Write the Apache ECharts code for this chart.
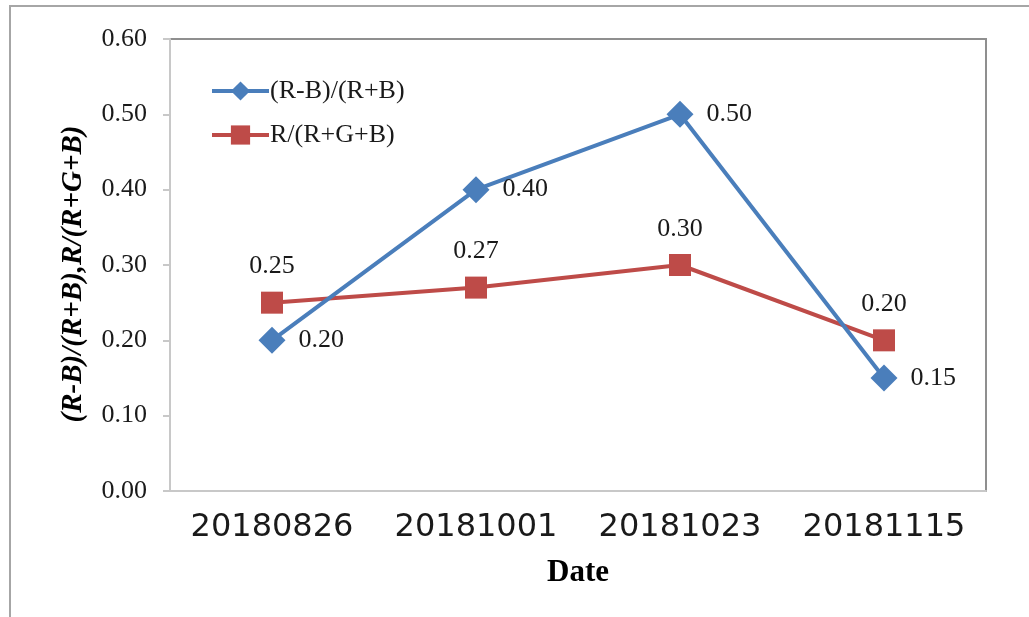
<!DOCTYPE html>
<html>
<head>
<meta charset="utf-8">
<script src="https://cdn.jsdelivr.net/npm/echarts@6/dist/echarts.min.js"></script>
<style>
  html, body { margin: 0; padding: 0; background: #fff; }
  #chart { width: 1029px; height: 617px; }
</style>
</head>
<body>
<div id="chart"></div>
<script>
// Sampling dates
const dates = ['20180826', '20181001', '20181023', '20181115'];
// Colour index series
const seriesNames = ['(R-B)/(R+B)', 'R/(R+G+B)'];
const ratioRB = [0.20, 0.40, 0.50, 0.15];
const ratioRGB = [0.25, 0.27, 0.30, 0.20];
// Value axis range
const yMin = 0, yMax = 0.6, yStep = 0.1;

const serif = '"Liberation Serif", "Times New Roman", serif';
const textColor = '#1a1a1a';

const chart = echarts.init(document.getElementById('chart'));
chart.setOption({
  animation: false,
  backgroundColor: '#fff',
  graphic: [{
    type: 'rect',
    shape: { x: 10, y: 6, width: 1060, height: 700 },
    style: { fill: 'none', stroke: '#a6a6a6', lineWidth: 2 },
    silent: true
  }],
  grid: {
    left: 170, top: 39, right: 43, bottom: 126,
    show: true, borderColor: '#8f8f8f', borderWidth: 2
  },
  legend: {
    orient: 'vertical',
    left: 205, top: 73,
    itemWidth: 57, itemHeight: 24, itemGap: 18,
    lineStyle: { width: 4 },
    textStyle: { fontFamily: serif, fontSize: 26, color: textColor, padding: [0, 0, 0, -4] },
    data: seriesNames
  },
  xAxis: {
    type: 'category',
    data: dates,
    boundaryGap: true,
    axisLine: { lineStyle: { color: '#c8c8c8', width: 2 } },
    axisTick: { show: false },
    axisLabel: {
      interval: 0,
      fontFamily: '"DejaVu Sans", sans-serif', fontSize: 32, color: textColor, margin: 21
    },
    name: 'Date',
    nameLocation: 'middle',
    nameGap: 66,
    nameTextStyle: { fontFamily: serif, fontSize: 31, fontWeight: 'bold', color: '#000' }
  },
  yAxis: {
    type: 'value',
    min: yMin, max: yMax, interval: yStep,
    axisLine: { show: true, lineStyle: { color: '#c8c8c8', width: 2 } },
    axisTick: { show: true, length: 7, lineStyle: { color: '#c8c8c8', width: 2 } },
    splitLine: { show: false },
    axisLabel: {
      fontFamily: serif, fontSize: 26, color: textColor, margin: 23,
      formatter: v => v.toFixed(2)
    },
    name: '(R-B)/(R+B),R/(R+G+B)',
    nameLocation: 'middle',
    nameRotate: 90,
    nameGap: 82,
    nameTextStyle: {
      fontFamily: serif, fontSize: 29, fontWeight: 'bold', fontStyle: 'italic', color: '#000',
      padding: [0, 18, 0, 0]
    }
  },
  series: [
    {
      name: seriesNames[0],
      type: 'line',
      data: ratioRB,
      color: '#4a7ebb',
      symbol: 'diamond',
      symbolSize: 27,
      lineStyle: { width: 4, color: '#4a7ebb' },
      itemStyle: { color: '#4a7ebb' },
      label: {
        show: true, position: 'right', distance: 13,
        fontFamily: serif, fontSize: 26, color: textColor,
        formatter: p => p.value.toFixed(2)
      },
      z: 3
    },
    {
      name: seriesNames[1],
      type: 'line',
      data: ratioRGB,
      color: '#be4b48',
      symbol: 'rect',
      symbolSize: 22,
      lineStyle: { width: 4, color: '#be4b48' },
      itemStyle: { color: '#be4b48' },
      label: {
        show: true, position: 'top', distance: 12,
        fontFamily: serif, fontSize: 26, color: textColor,
        formatter: p => p.value.toFixed(2)
      },
      z: 2
    }
  ]
});
</script>
</body>
</html>
